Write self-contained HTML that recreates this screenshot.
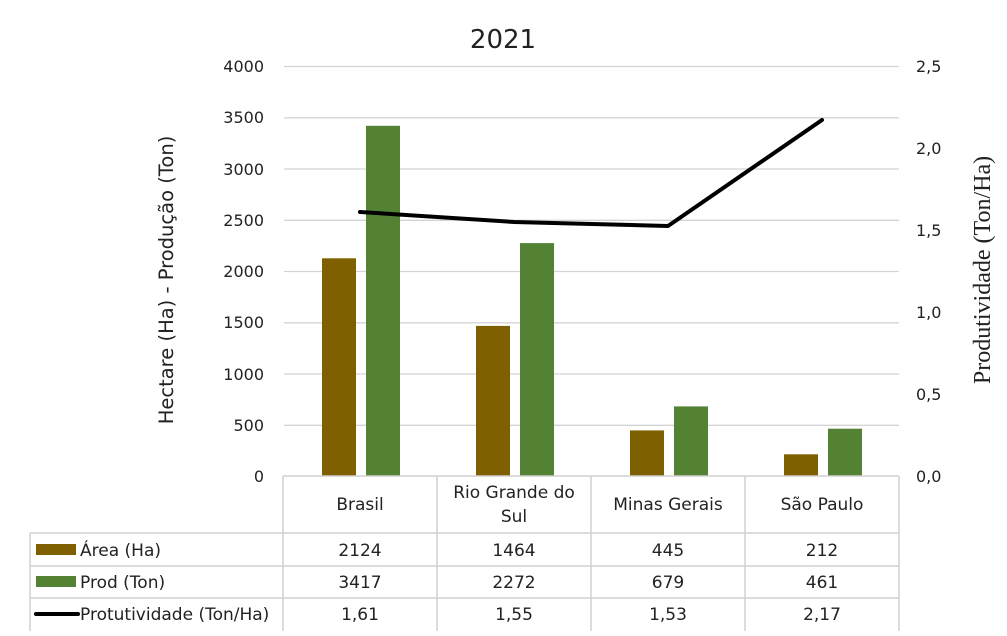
<!DOCTYPE html>
<html><head><meta charset="utf-8"><style>
body{margin:0;background:#fff}
text{font-family:"DejaVu Sans","Liberation Sans",sans-serif;fill:#222}
</style></head><body>
<svg width="1007" height="631" viewBox="0 0 1007 631" xmlns="http://www.w3.org/2000/svg">
<rect width="1007" height="631" fill="#fff"/>
<text x="503" y="48" font-size="26" text-anchor="middle">2021</text>
<g stroke="#d4d4d4" stroke-width="1.3">
<line x1="284" y1="66.5" x2="899" y2="66.5"/>
<line x1="284" y1="117.8" x2="899" y2="117.8"/>
<line x1="284" y1="169" x2="899" y2="169"/>
<line x1="284" y1="220.3" x2="899" y2="220.3"/>
<line x1="284" y1="271.5" x2="899" y2="271.5"/>
<line x1="284" y1="322.8" x2="899" y2="322.8"/>
<line x1="284" y1="374" x2="899" y2="374"/>
<line x1="284" y1="425.3" x2="899" y2="425.3"/>
</g>
<g font-size="16" text-anchor="end">
<text x="264" y="72">4000</text><text x="264" y="123">3500</text><text x="264" y="175">3000</text>
<text x="264" y="226">2500</text><text x="264" y="277">2000</text><text x="264" y="328">1500</text>
<text x="264" y="380">1000</text><text x="264" y="431">500</text><text x="264" y="482">0</text>
</g>
<g font-size="16">
<text x="916" y="72">2,5</text><text x="916" y="154">2,0</text><text x="916" y="236">1,5</text>
<text x="916" y="318">1,0</text><text x="916" y="400">0,5</text><text x="916" y="482">0,0</text>
</g>
<text transform="translate(173,280) rotate(-90)" font-size="19.5" text-anchor="middle">Hectare (Ha) - Produção (Ton)</text>
<text transform="translate(990,270) rotate(-90)" font-size="24" text-anchor="middle" style="font-family:'Liberation Serif',serif">Produtividade (Ton/Ha)</text>
<g fill="#7f6000">
<rect x="322" y="258.3" width="34" height="217.7"/>
<rect x="476" y="325.9" width="34" height="150.1"/>
<rect x="630" y="430.4" width="34" height="45.6"/>
<rect x="784" y="454.3" width="34" height="21.7"/>
</g>
<g fill="#548235">
<rect x="366" y="125.8" width="34" height="350.2"/>
<rect x="520" y="243.1" width="34" height="232.9"/>
<rect x="674" y="406.4" width="34" height="69.6"/>
<rect x="828" y="428.7" width="34" height="47.3"/>
</g>
<polyline points="360,212 514,222 668,226 822,120" fill="none" stroke="#000" stroke-width="4" stroke-linecap="round" stroke-linejoin="round"/>
<g stroke="#d0d0d0" stroke-width="1.5" fill="none">
<line x1="283" y1="476" x2="899" y2="476"/>
<line x1="30" y1="533" x2="899" y2="533"/>
<line x1="30" y1="566" x2="899" y2="566"/>
<line x1="30" y1="598" x2="899" y2="598"/>
<line x1="30" y1="533" x2="30" y2="631"/>
<line x1="283" y1="476" x2="283" y2="631"/>
<line x1="437" y1="476" x2="437" y2="631"/>
<line x1="591" y1="476" x2="591" y2="631"/>
<line x1="745" y1="476" x2="745" y2="631"/>
<line x1="899" y1="476" x2="899" y2="631"/>
</g>
<g font-size="17" text-anchor="middle">
<text x="360" y="510">Brasil</text>
<text x="514" y="498">Rio Grande do</text><text x="514" y="522">Sul</text>
<text x="668" y="510">Minas Gerais</text>
<text x="822" y="510">São Paulo</text>
<text x="360" y="556">2124</text><text x="514" y="556">1464</text><text x="668" y="556">445</text><text x="822" y="556">212</text>
<text x="360" y="588">3417</text><text x="514" y="588">2272</text><text x="668" y="588">679</text><text x="822" y="588">461</text>
<text x="360" y="620">1,61</text><text x="514" y="620">1,55</text><text x="668" y="620">1,53</text><text x="822" y="620">2,17</text>
</g>
<rect x="36" y="544" width="40" height="11" fill="#7f6000"/>
<rect x="36" y="576" width="40" height="11" fill="#548235"/>
<line x1="36" y1="614" x2="78" y2="614" stroke="#000" stroke-width="4" stroke-linecap="round"/>
<g font-size="17">
<text x="80" y="556">Área (Ha)</text>
<text x="80" y="588">Prod (Ton)</text>
<text x="80" y="620">Protutividade (Ton/Ha)</text>
</g>
</svg>
</body></html>
